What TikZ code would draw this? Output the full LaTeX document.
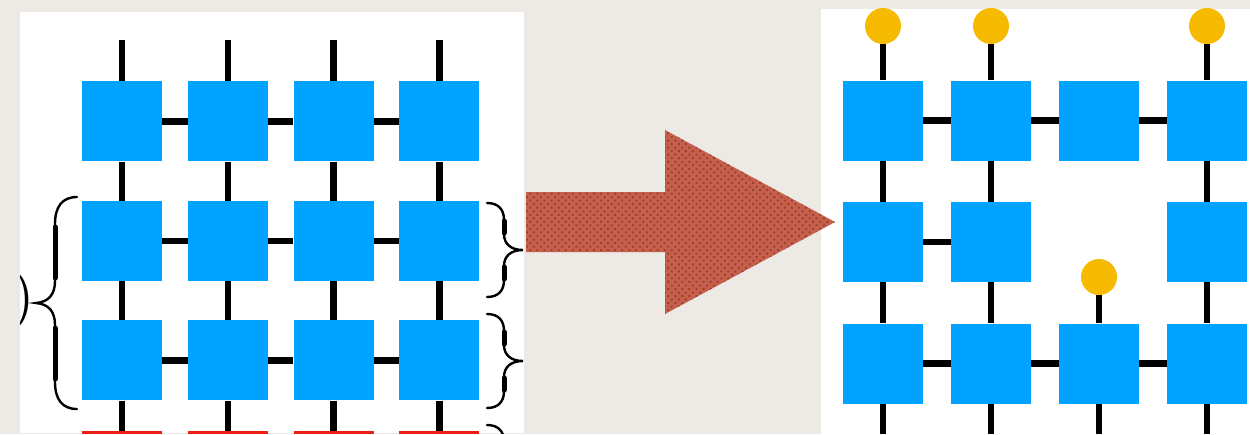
\documentclass[tikz,border=0pt]{standalone}
\usepackage{graphicx}
\usetikzlibrary{patterns.meta}
\definecolor{paper}{RGB}{237,234,229}
\definecolor{tblue}{RGB}{0,163,255}
\definecolor{tyellow}{RGB}{246,187,0}
\definecolor{tred}{RGB}{235,30,20}
\definecolor{arrowred}{RGB}{196,96,76}
\definecolor{arrowdot}{RGB}{160,62,50}
\begin{document}
\begin{tikzpicture}[x=1pt,y=-1pt,
  site/.style={fill=tblue,minimum size=80pt,inner sep=0pt},
  redsite/.style={site,fill=tred},
  leg/.style={line width=6.5pt},
  bond/.style={line width=6.5pt},
  ket/.style={circle,fill=tyellow,minimum size=36pt,inner sep=0pt},
  brace/.style={line width=2.4pt,line cap=round},
  bracearm/.style={line width=5pt,line cap=round}]
\fill[paper] (0,0) rectangle (1250,434);
\useasboundingbox (0,0) rectangle (1250,434);
\fill[white] (20,12) rectangle (524,433);
\begin{scope}
\clip (20,12) rectangle (524,433);
\foreach \i in {1,...,4} {
  \foreach \j in {1,2,3}
    \node[site] (L\i\j) at ({16.2+105.8*\i},{1.8+119.5*\j}) {};
  \node[redsite] (L\i4) at ({16.2+105.8*\i},471) {};
  \coordinate (Ltop\i) at ({16.2+105.8*\i},40);
}
\foreach \i in {1,...,4} {
  \draw[leg] (Ltop\i) -- (L\i1);
  \draw[leg] (L\i1) -- (L\i2);
  \draw[leg] (L\i2) -- (L\i3);
  \draw[leg] (L\i3) -- (L\i4);
}
\foreach \j in {1,2,3}
  \foreach \i/\k in {1/2,2/3,3/4}
    \draw[bond] (L\i\j) -- (L\k\j);
\node[inner sep=0pt,anchor=east] (paren) at (35,300) {\scalebox{6}{$)$}};
\draw[brace] (77,197) .. controls (62,197) and (55,207) .. (55,224) -- (55,281)
  .. controls (55,294) and (49,302) .. (36,303) .. controls (49,304) and (55,312) .. (55,325)
  -- (55,382) .. controls (55,399) and (62,409) .. (77,409);
\draw[bracearm] (55,227) -- (55,278) (55,328) -- (55,379);
\foreach \y in {250,361,472} {
  \draw[brace,shift={(0,\y)}] (487,-47) .. controls (498,-47) and (504,-41) .. (504,-30) -- (504,-16)
    .. controls (504,-6) and (511,0) .. (523,0) .. controls (511,0) and (504,6) .. (504,16)
    -- (504,30) .. controls (504,41) and (498,47) .. (487,47);
  \draw[bracearm,shift={(0,\y)}] (504,-29) -- (504,-17) (504,17) -- (504,29);
}
\end{scope}
\fill[white] (821,9) rectangle (1250,434);
\foreach \i/\j in {1/1,2/1,3/1,4/1,1/2,2/2,4/2,1/3,2/3,3/3,4/3}
  \node[site] (R\i\j) at ({775+108*\i},{-1+121.5*\j}) {};
\foreach \i in {1,2,4}
  \node[ket] (K\i) at ({775+108*\i},26) {};
\node[ket] (K3) at (1099,277) {};
\foreach \i in {1,...,4}
  \coordinate (Rbot\i) at ({775+108*\i},434);
\foreach \i in {1,2,4} {
  \draw[leg] (K\i) -- (R\i1);
  \draw[leg] (R\i1) -- (R\i2);
  \draw[leg] (R\i2) -- (R\i3);
}
\draw[leg] (K3) -- (R33);
\foreach \i in {1,...,4}
  \draw[leg] (R\i3) -- (Rbot\i);
\foreach \i/\k in {1/2,2/3,3/4} {
  \draw[bond] (R\i1) -- (R\k1);
  \draw[bond] (R\i3) -- (R\k3);
}
\draw[bond] (R12) -- (R22);
\fill[arrowred] (526,192) -- (665,192) -- (665,130) -- (835,222) -- (665,314) -- (665,252) -- (526,252) -- cycle;
\fill[pattern={Dots[distance=5pt,radius=1.4pt,angle=45]},pattern color=arrowdot] (526,192) -- (665,192) -- (665,130) -- (835,222) -- (665,314) -- (665,252) -- (526,252) -- cycle;
\end{tikzpicture}
\end{document}
